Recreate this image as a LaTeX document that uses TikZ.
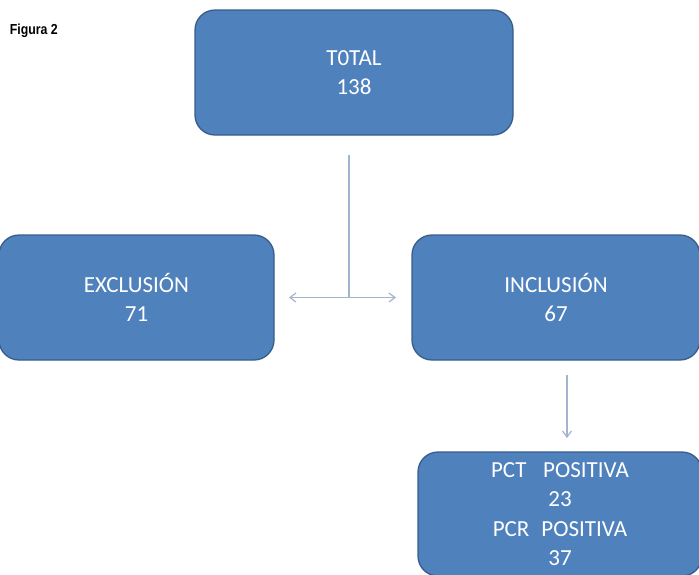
\documentclass[tikz,border=0pt]{standalone}
\usepackage{fontspec}
\setmainfont{Carlito}
\newfontfamily\labelfont{Liberation Sans}
\usetikzlibrary{positioning,arrows.meta}
\definecolor{boxfill}{HTML}{4F81BD}
\definecolor{boxline}{HTML}{385D8A}
\definecolor{pilcol}{HTML}{A3B4CE}
\tikzset{
    % Define standard arrow tip
    >={Straight Barb[length=6pt,width=9pt]},
    % box style
    blok/.style={
           draw=boxline,
           line width=1.3pt,
           fill=boxfill,
           rounded corners=20pt,
           text=white,
           align=center,
           font=\fontsize{23}{29.5}\selectfont,},
    % arrow style
    pil/.style={
           ->,
           draw=pilcol,
           line width=1.2pt,}
}
\begin{document}
\begin{tikzpicture}[x=1pt,y=-1pt,outer sep=0pt]

\useasboundingbox (0,0) rectangle (699,574);

% caption
\node [font=\labelfont\bfseries\fontsize{14.5}{14.5}\selectfont, xscale=0.85, anchor=west] (fig) at (7,31) {Figura 2};

% boxes
\node [blok, minimum width=318pt, minimum height=125pt] (total) at (354,72.5) {T0TAL\\138};
\node [blok, minimum width=275pt, minimum height=125pt] (excl) at (136.5,297.5) {EXCLUSIÓN\\71};
\node [blok, minimum width=288pt, minimum height=125pt] (incl) at (556,297.5) {INCLUSIÓN\\67};
\node [blok, minimum width=284pt, minimum height=124pt, anchor=north west] (pct) at (418,452) {PCT\hspace{0.5em} POSITIVA\\23\\PCR\hspace{0.3em} POSITIVA\\37};

% junction points
\coordinate (junc) at (349,297.5);
\coordinate (vtop) at (349,155);
\coordinate (dtop) at (567,375);
\coordinate (dbot) at (567,438);

% connectors
\draw [pil, -] (vtop) -- (junc);
\draw [pil, <->, shorten <=15pt, shorten >=16pt] (excl.east) -- (incl.west);
\draw [pil] (dtop) -- (dbot);

\end{tikzpicture}
\end{document}
